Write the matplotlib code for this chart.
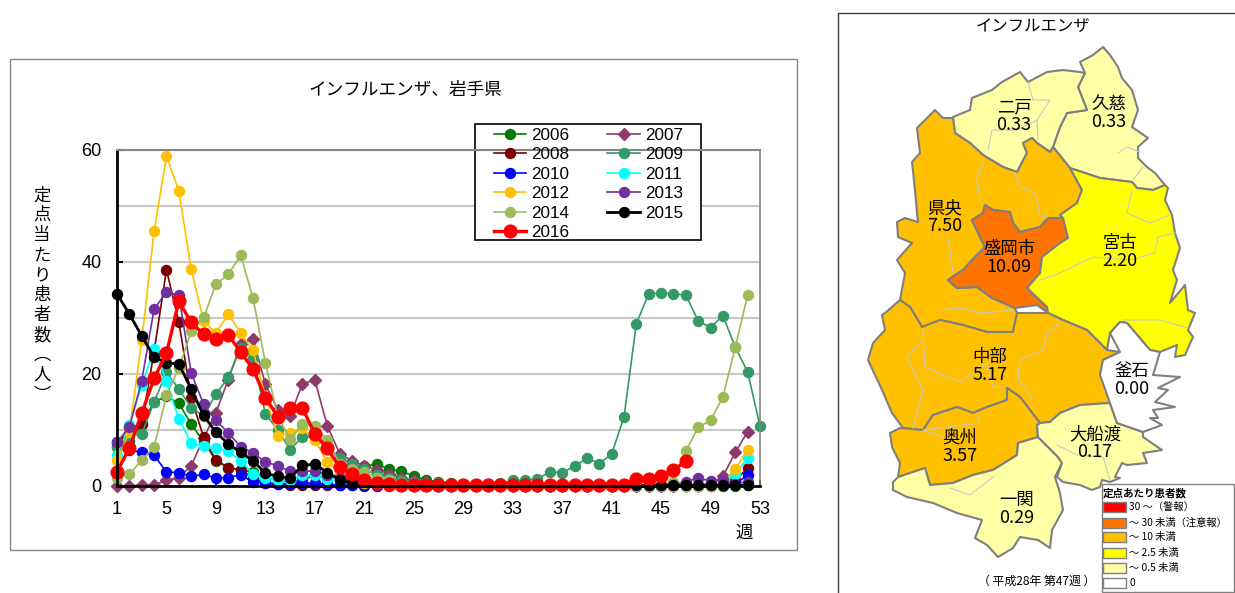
import matplotlib
matplotlib.use("Agg")
import matplotlib.pyplot as plt
from matplotlib.patches import Polygon, Rectangle

plt.rcParams['font.family'] = ['Liberation Sans', 'Noto Sans CJK JP', 'DejaVu Sans']
JP = ['Noto Sans CJK JP', 'DejaVu Sans']

# weekly cases per sentinel
y2006 = [7.5, 8, 11, 15, 16, 14.8, 11, 8, 4.5, 3.3, 2.8, 2.5, 1.5,
         1, 0.8, 1, 2, 1.2, 2.3, 3, 3.5, 3.9, 3, 2.6, 1.8, 1,
         0.8, 0.5, 0.3, 0.2, 0.1, 0.1, 0, 0, 0, 0, 0, 0, 0,
         0, 0, 0, 0, 0, 0, 0, 0, 0, 0, 0, 0, 0.1]
y2007 = [0, 0, 0.2, 0.2, 1, 1.5, 3.6, 8.5, 13.1, 19, 25.3, 26.3, 18.2,
         13.6, 12.5, 18.3, 18.9, 10.8, 5.8, 4.5, 3.6, 2.9, 2.2, 1.5, 1, 0.7,
         0.4, 0.3, 0.2, 0.1, 0.1, 0.1, 0, 0, 0, 0, 0, 0, 0,
         0, 0, 0, 0, 0, 0, 0, 0.1, 0.2, 0.4, 1.7, 6, 9.7]
y2008 = [7, 10.5, 11, 24, 38.6, 29.3, 15.8, 8.7, 4.6, 3.3, 2.8, 1.5, 0.5,
         0.3, 0.2, 0.2, 0.2, 0.1, 0.1, 0.1, 0, 0, 0, 0, 0, 0,
         0, 0, 0, 0, 0, 0, 0, 0, 0, 0, 0, 0, 0,
         0, 0, 0, 0, 0, 0, 0, 0, 0, 0, 0.1, 1, 3.2]
y2009 = [7, 9, 9.3, 15, 20.3, 17.3, 14, 12.5, 16.4, 19.4, 24.6, 22.9, 12.9,
         10, 6.5, 8.8, 8.8, 7, 5, 4, 3, 2, 1.5, 1, 0.8, 0.6,
         0.5, 0.3, 0.2, 0.2, 0.3, 0.5, 1, 1, 1.3, 2.5, 2.4, 3.5, 5,
         4, 5.7, 12.3, 29, 34.3, 34.5, 34.3, 34.1, 29.5, 28.3, 30.4, 24.8, 20.4, 10.7]
y2010 = [7.9, 6.5, 6, 5.5, 2.5, 2.4, 1.7, 2.1, 1.4, 1.5, 2, 0.7, 0.6,
         0.4, 0.4, 0.6, 0.5, 0.3, 0.2, 0.2, 0.2, 0.1, 0.1, 0.1, 0, 0,
         0, 0, 0, 0, 0, 0, 0, 0, 0, 0, 0, 0, 0,
         0, 0, 0, 0, 0, 0, 0, 0, 0, 0, 0.1, 0.3, 2]
y2011 = [5.5, 10.9, 18, 24.4, 18.7, 11.9, 7.7, 7.1, 6.7, 6.3, 4.5, 2.1, 1.5,
         1, 1, 2, 2, 1.2, 1, 1.2, 1.5, 1.5, 1, 0.5, 0.3, 0.2,
         0, 0, 0, 0, 0, 0, 0, 0, 0, 0, 0, 0, 0,
         0, 0, 0, 0, 0, 0, 0, 0, 0, 0, 0.3, 2.1, 5]
y2012 = [4.6, 9.7, 26, 45.5, 58.9, 52.7, 38.7, 29.5, 27.3, 30.7, 27.3, 24.2, 16,
         9, 9.5, 10.3, 8.2, 4.2, 2.5, 1.5, 0.5, 0.3, 0.2, 0.1, 0.1, 0,
         0, 0, 0, 0, 0, 0, 0, 0, 0, 0, 0, 0, 0,
         0, 0, 0, 0, 0, 0, 0, 0, 0, 0, 0.5, 3, 6.5]
y2013 = [7.8, 10.5, 18.8, 31.6, 34.6, 34.1, 20.2, 14.6, 11.7, 9.5, 7, 5.9, 4.3,
         3.6, 2.6, 2.6, 2.7, 2, 1.5, 1, 0.8, 0.6, 0.4, 0.3, 0.2, 0.1,
         0, 0, 0, 0, 0, 0, 0, 0, 0, 0, 0, 0, 0,
         0, 0, 0, 0, 0, 0, 0.2, 0.8, 1.4, 0.9, 1, 0.4, 0.8]
y2014 = [1.4, 2.1, 4.6, 7, 16.2, 21, 27.6, 30.1, 36, 37.8, 41.2, 33.6, 22,
         12.4, 8.4, 11, 10.8, 8.2, 4, 3, 2.5, 1.5, 1, 0.5, 0.3, 0.2,
         0, 0, 0, 0, 0, 0, 0, 0, 0, 0, 0, 0, 0,
         0, 0, 0, 0, 0, 0, 0.8, 6.2, 10.5, 11.7, 15.9, 24.8, 34.1]
y2015 = [34.3, 30.7, 26.8, 23, 22, 21.8, 17.3, 12.6, 9.6, 7.5, 6, 4.5, 2.3,
         1.7, 1.4, 3.7, 3.9, 2.4, 1.1, 0.5, 1, 0.8, 0.4, 0.2, 0.2, 0.2,
         0.1, 0.1, 0.1, 0.1, 0.1, 0.1, 0.1, 0.1, 0.1, 0.1, 0.1, 0.1, 0.1,
         0.1, 0.1, 0.1, 0.1, 0.1, 0.1, 0.1, 0.1, 0.1, 0.1, 0.1, 0.1, 0.1]
y2016 = [2.5, 6.8, 13, 19.2, 23.7, 33, 29.2, 27.1, 26.2, 27, 23.9, 20.9, 15.8,
         12.4, 13.9, 13.9, 9.3, 6.7, 3.4, 2.1, 1.1, 0.6, 0.3, 0.2, 0.2, 0.2,
         0.2, 0.2, 0.2, 0.2, 0.2, 0.2, 0.2, 0.2, 0.2, 0.2, 0.2, 0.2, 0.2,
         0.2, 0.2, 0.2, 1.2, 1.2, 1.7, 2.9, 4.4]

series_names = ['2006', '2007', '2008', '2009', '2010', '2011', '2012', '2013', '2014', '2015', '2016']
series_values = [y2006, y2007, y2008, y2009, y2010, y2011, y2012, y2013, y2014, y2015, y2016]
series_colors = ['#007A00', '#8E3A6B', '#7A0000', '#339966', '#0000FF', '#00FFFF',
                 '#FFC000', '#7030A0', '#9BBB59', '#000000', '#FF0000']

x_ticks = [1, 5, 9, 13, 17, 21, 25, 29, 33, 37, 41, 45, 49, 53]
y_ticks = [0, 20, 40, 60]

# map outlines, in pixels of the picture
kuji = [(1103, 47), (1110, 55), (1118, 67), (1122, 78), (1132, 90), (1138, 110), (1132, 127), (1148, 138),
        (1138, 147), (1138, 158), (1147, 167), (1155, 173), (1165, 185), (1153, 190), (1137, 188), (1132, 182),
        (1100, 178), (1070, 168), (1053, 147), (1060, 127), (1067, 113), (1087, 110), (1078, 87), (1085, 73),
        (1080, 62), (1093, 55)]
ninohe = [(953, 117), (970, 110), (972, 98), (992, 90), (1002, 82), (1020, 72), (1028, 82), (1047, 72),
          (1063, 70), (1080, 72), (1085, 73), (1078, 87), (1087, 110), (1067, 113), (1060, 127), (1053, 147),
          (1050, 152), (1037, 143), (1032, 138), (1023, 143), (1027, 153), (1017, 172), (1003, 167), (983, 155),
          (970, 143), (955, 133)]
kenou = [(935, 110), (943, 118), (953, 118), (955, 133), (970, 143), (983, 155), (1003, 167), (1017, 172),
         (1027, 153), (1023, 143), (1032, 138), (1037, 143), (1050, 152), (1053, 147), (1070, 168), (1082, 190),
         (1077, 203), (1060, 215), (1063, 218), (1048, 218), (1040, 227), (1020, 232), (1013, 223), (1010, 212),
         (993, 210), (985, 205), (983, 213), (972, 220), (980, 237), (985, 247), (975, 257), (963, 270),
         (948, 280), (957, 288), (977, 287), (992, 298), (1015, 308), (1017, 313), (1013, 332), (987, 332),
         (963, 325), (940, 320), (922, 327), (910, 307), (900, 300), (905, 273), (897, 260), (912, 243),
         (898, 237), (897, 222), (905, 218), (918, 222), (917, 213), (915, 190), (912, 162), (920, 153), (917, 128)]
morioka = [(985, 205), (993, 210), (1010, 212), (1013, 223), (1020, 232), (1040, 227), (1048, 218), (1063, 218),
           (1068, 238), (1060, 243), (1042, 257), (1040, 273), (1027, 288), (1047, 307), (1048, 313), (1037, 305),
           (1015, 308), (992, 298), (977, 287), (957, 288), (948, 280), (963, 270), (975, 257), (985, 247),
           (980, 237), (972, 220), (983, 213)]
miyako = [(1070, 168), (1100, 178), (1132, 182), (1137, 188), (1153, 190), (1165, 185), (1168, 188), (1165, 200),
          (1172, 215), (1175, 233), (1180, 248), (1173, 270), (1177, 280), (1170, 303), (1185, 285), (1188, 310),
          (1195, 313), (1188, 330), (1193, 337), (1185, 355), (1175, 357), (1177, 345), (1160, 352), (1150, 350),
          (1127, 323), (1120, 322), (1110, 333), (1107, 350), (1087, 330), (1063, 320), (1048, 313), (1047, 307),
          (1027, 288), (1040, 273), (1042, 257), (1060, 243), (1068, 238), (1063, 218), (1060, 215), (1077, 203),
          (1082, 190)]
chubu = [(885, 313), (900, 300), (910, 307), (922, 327), (940, 320), (963, 325), (987, 332), (1013, 332),
         (1017, 313), (1048, 313), (1063, 320), (1087, 330), (1107, 350), (1120, 352), (1103, 360), (1100, 375),
         (1112, 400), (1110, 403), (1080, 405), (1060, 413), (1050, 422), (1040, 423), (1020, 397), (1007, 388),
         (1007, 400), (987, 407), (973, 413), (957, 407), (933, 415), (923, 430), (903, 428), (892, 413),
         (882, 390), (868, 360), (873, 343), (885, 330), (882, 315)]
oshu = [(890, 433), (900, 428), (923, 430), (933, 415), (957, 407), (973, 413), (987, 407), (1007, 400),
        (1007, 388), (1020, 397), (1040, 423), (1037, 425), (1038, 437), (1018, 443), (1017, 455), (993, 470),
        (973, 475), (953, 483), (930, 485), (925, 468), (898, 477), (900, 463), (892, 447)]
ichinoseki = [(893, 482), (898, 477), (925, 468), (930, 485), (953, 483), (973, 475), (993, 470), (1017, 455),
              (1018, 443), (1038, 437), (1058, 457), (1062, 463), (1055, 477), (1060, 493), (1063, 510), (1052, 530),
              (1050, 548), (1038, 540), (1020, 537), (1013, 548), (998, 557), (987, 545), (975, 538), (982, 520),
              (957, 513), (933, 503), (907, 497), (893, 490)]
ofunato = [(1037, 425), (1040, 423), (1050, 422), (1060, 413), (1080, 405), (1110, 403), (1117, 423), (1143, 432),
           (1143, 437), (1162, 450), (1143, 453), (1147, 463), (1127, 465), (1122, 463), (1115, 477), (1120, 478),
           (1110, 482), (1102, 480), (1100, 487), (1092, 490), (1080, 485), (1063, 482),
           (1057, 477), (1062, 463), (1058, 457), (1038, 437)]
kamaishi = [(1120, 352), (1110, 333), (1120, 322), (1127, 323), (1150, 350), (1160, 352), (1153, 375), (1180, 377),
            (1158, 388), (1168, 390), (1155, 402), (1175, 407), (1153, 410), (1158, 418), (1150, 418), (1162, 425),
            (1143, 432), (1117, 423), (1110, 403), (1100, 375), (1103, 360)]
inner_lines = [
    [(1028, 82), (1033, 100), (1050, 100), (1037, 120), (1038, 140)],
    [(988, 150), (992, 130), (1017, 130), (1037, 120)],
    [(1118, 153), (1127, 147), (1140, 152)],
    [(1143, 167), (1133, 180)],
    [(983, 162), (977, 177), (980, 200)],
    [(1015, 173), (1020, 187), (1035, 193), (1040, 215), (1047, 218)],
    [(948, 237), (953, 272)],
    [(1132, 190), (1127, 213), (1150, 223), (1170, 215)],
    [(1040, 280), (1060, 273), (1093, 257), (1130, 260), (1155, 253), (1158, 237), (1175, 233)],
    [(940, 310), (960, 308), (983, 313), (1013, 310)],
    [(923, 330), (925, 367), (960, 382), (987, 363), (993, 387), (1003, 388)],
    [(922, 340), (907, 357), (923, 390), (913, 428)],
    [(1060, 323), (1047, 333), (1043, 350), (1020, 360), (1018, 377), (1033, 400)],
    [(1123, 320), (1160, 320), (1188, 328)],
    [(977, 415), (980, 423), (923, 430), (943, 437)],
    [(950, 488), (970, 495), (993, 477)],
    [(1057, 445), (1077, 455), (1103, 457), (1110, 480)],
]

regions = [kuji, ninohe, kenou, morioka, miyako, chubu, oshu, ichinoseki, ofunato, kamaishi]
region_colors = ['#FFFFA6', '#FFFFA6', '#FFC000', '#FF7300', '#FFFF00', '#FFC000', '#FFC000', '#FFFFA6', '#FFFFA6', '#FFFFFF']

region_names = ['二戸', '久慈', '県央', '盛岡市', '宮古', '中部', '釜石', '奥州', '大船渡', '一関']
region_rates = ['0.33', '0.33', '7.50', '10.09', '2.20', '5.17', '0.00', '3.57', '0.17', '0.29']
region_spots = [(1014, 107), (1109, 104), (945, 208), (1009, 249), (1120, 243),
                (990, 357), (1132, 371), (960, 438), (1095, 434), (1017, 500)]

key_labels = ['30 ～（警報）', '～ 30 未満（注意報）', '～ 10 未満', '～ 2.5 未満', '～ 0.5 未満', '0']
key_colors = ['#FF0000', '#FF7300', '#FFC000', '#FFFF00', '#FFFFA6', '#FFFFFF']
key_tops = [502, 518, 532, 548, 563, 578]


def draw_chart(fig):
    ax = fig.add_axes([117 / 1235, 107 / 593, 643 / 1235, 336 / 593], zorder=2)
    ax.patch.set_alpha(0)
    handles = {}
    for name, vals, col in zip(series_names, series_values, series_colors):
        weeks = range(1, len(vals) + 1)
        lw, ms, marker = 1.2, 7.2, 'o'
        if name == '2007':
            marker, ms = 'D', 6
        if name == '2015':
            lw, ms = 2, 7.2
        if name == '2016':
            lw, ms = 2.4, 9.2
        handles[name] = ax.plot(weeks, vals, color=col, lw=lw, marker=marker, ms=ms, mec=col, clip_on=False)[0]

    ax.set_xlim(1, 53)
    ax.set_ylim(0, 60)
    ax.set_xticks(x_ticks)
    ax.set_yticks(y_ticks)
    ax.set_yticks([10, 30, 50], minor=True)
    ax.tick_params(axis='both', which='major', direction='in', length=4, width=1.5, labelsize=13)
    ax.tick_params(axis='x', pad=11)
    ax.tick_params(axis='y', pad=11)
    ax.tick_params(axis='y', which='minor', length=0)
    ax.grid(True, axis='y', which='both', color='#C8C8C8', lw=1.5)
    ax.set_axisbelow(True)
    ax.spines['left'].set_linewidth(2)
    ax.spines['bottom'].set_linewidth(2)
    ax.spines['top'].set_color('#868686')
    ax.spines['top'].set_linewidth(1.5)
    ax.spines['right'].set_color('#868686')
    ax.spines['right'].set_linewidth(1.2)

    # legend fills column by column, the box is drawn apart because its padding is not even
    ax.add_patch(Rectangle((475 / 1235, 1 - 240 / 593), 226 / 1235, 116 / 593, transform=fig.transFigure,
                           fc='white', ec='black', lw=1.2, clip_on=False, zorder=1.5))
    order = ['2006', '2008', '2010', '2012', '2014', '2016', '2007', '2009', '2011', '2013', '2015']
    fig.legend([handles[n] for n in order], order, ncol=2, loc='upper left',
               bbox_to_anchor=(494 / 1235, 1 - 128 / 593), borderaxespad=0, frameon=False,
               fontsize=12.3, handlelength=1.9, labelspacing=0.26, columnspacing=2.2,
               borderpad=0, handletextpad=0.3)
    fig.legends[0].set_zorder(5)


def draw_map(canvas):
    for shape, col in zip(regions, region_colors):
        canvas.add_patch(Polygon(shape, closed=True, fc=col, ec='#7F7F7F', lw=1.5, joinstyle='round'))
    for line in inner_lines:
        canvas.plot(*zip(*line), color='#C8C8C8', lw=0.8)
    for name, rate, (x, y) in zip(region_names, region_rates, region_spots):
        canvas.text(x, y, name, family=JP, fontsize=12.5, ha='center', va='center')
        canvas.text(x, y + 18, rate, family=JP, fontsize=13, ha='center', va='center')

    canvas.add_patch(Rectangle((1102, 484), 132, 108, fc='white', ec='#7F7F7F', lw=1, zorder=3))
    canvas.text(1103, 493, '定点あたり患者数', family=JP, fontsize=7.6, weight='bold', va='center', zorder=4)
    for label, col, top in zip(key_labels, key_colors, key_tops):
        canvas.add_patch(Rectangle((1103, top), 23, 10, fc=col, ec='#7F7F7F', lw=1, zorder=4))
        canvas.text(1129, top + 5, label, family=JP, fontsize=7.4, va='center', zorder=4)
    canvas.text(1037, 581, '（ 平成28年 第47週 ）', family=JP, fontsize=8.6, ha='center', va='center')


fig = plt.figure(figsize=(12.35, 5.93), dpi=100, facecolor='white')

# full picture overlay, one unit is one pixel
canvas = fig.add_axes([0, 0, 1, 1], zorder=1)
canvas.set_xlim(0, 1235)
canvas.set_ylim(593, 0)
canvas.axis('off')

canvas.add_patch(Rectangle((10, 59), 787, 491, fc='white', ec='#868686', lw=1))
canvas.plot([838, 838, 1235], [593, 13, 13], color='#404040', lw=1)

canvas.text(405, 90, 'インフルエンザ、岩手県', family=JP, fontsize=12.7, ha='center', va='center')
canvas.text(1033, 27, 'インフルエンザ', family=JP, fontsize=11.8, ha='center', va='center')
canvas.text(42, 295, '\n'.join('定点当たり患者数︵人︶'), family=JP, fontsize=12.5, ha='center', va='center',
            linespacing=1.14)
canvas.text(744, 533, '週', family=JP, fontsize=12.5, ha='center', va='center')

draw_map(canvas)
draw_chart(fig)

fig.savefig('out.png', dpi=100)
